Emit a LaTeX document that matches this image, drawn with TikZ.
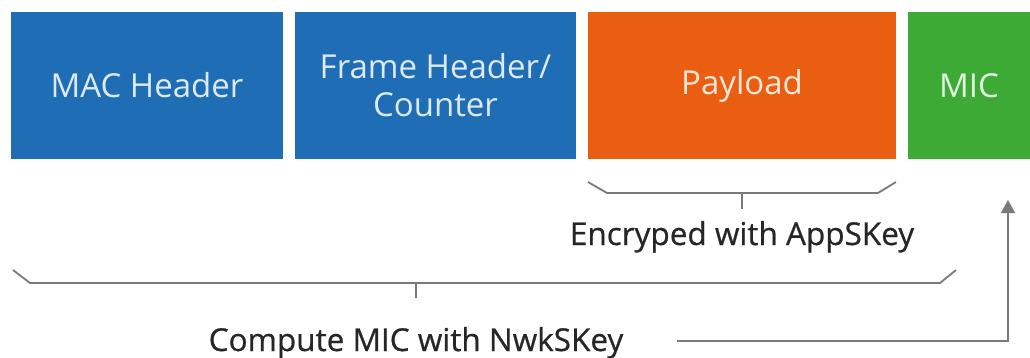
\documentclass[tikz,border=0pt]{standalone}
\usepackage{fontspec}
\setmainfont{Open Sans}
\newfontfamily\lblfont[FakeBold=0.6]{Open Sans}
\usetikzlibrary{arrows.meta}
\definecolor{cblue}{HTML}{1F6DB5}
\definecolor{corange}{HTML}{E95E10}
\definecolor{cgreen}{HTML}{3DAA35}
\definecolor{cline}{HTML}{7A7A7A}
\definecolor{ctext}{HTML}{262626}
\tikzset{
  field/.style={inner sep=0pt, minimum height=147pt, font=\fontsize{33}{38}\selectfont, align=center},
  brace/.style={draw=cline, line width=1.8pt},
  label/.style={inner sep=0pt, text=ctext, font=\lblfont\fontsize{31.5}{36}\selectfont},
}
\begin{document}
\begin{tikzpicture}[x=1pt, y=-1pt]
\path[use as bounding box] (0,0) rectangle (1030,358);
\node[field, fill=cblue, text=white!85!cblue, minimum width=272pt] (mac) at (147,85.5) {MAC Header};
\node[field, fill=cblue, text=white!85!cblue, minimum width=281pt] (fhdr) at (435.5,85.5) {Frame Header/\\Counter};
\node[field, fill=corange, text=white!85!corange, minimum width=308pt] (pay) at (742,85.5) {Payload};
\node[field, fill=cgreen, text=white!85!cgreen, minimum width=122pt] (mic) at (969,85.5) {MIC};
% payload brace
\draw[brace] (588,182) -- (607,193) -- (878,193) -- (896,182);
\draw[brace] (742,193) -- (742,209);
\node[label, anchor=base] (enc) at (742,245) {Encryped with AppSKey};
% big brace
\draw[brace] (13,270) -- (30,283) -- (940,283) -- (956,270);
\draw[brace] (416,283) -- (416,298);
\node[label, anchor=base] (comp) at (416,351) {Compute MIC with NwkSKey};
\coordinate (arrstart) at (677,341);
\coordinate (micin) at (1008,200);
\draw[draw=cline, line width=1.8pt, -{Triangle[length=13pt,width=14pt]}] (arrstart) -| (micin);
\end{tikzpicture}
\end{document}
